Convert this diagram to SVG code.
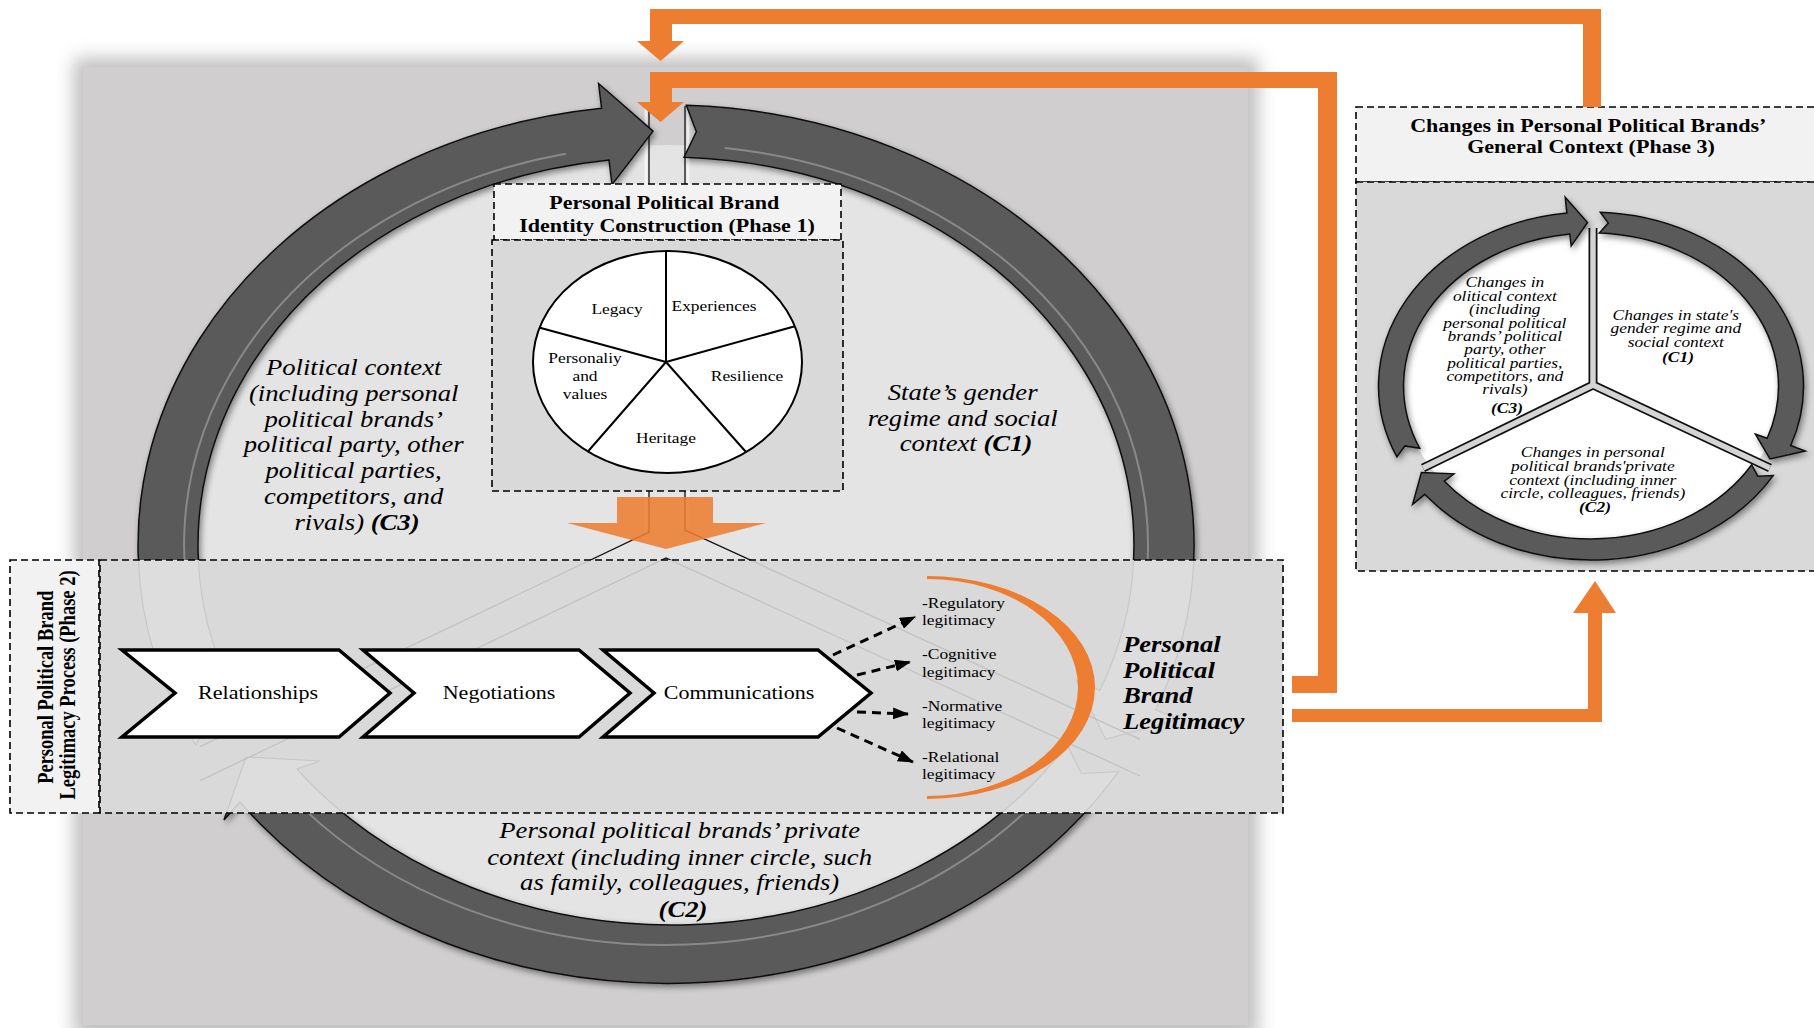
<svg xmlns="http://www.w3.org/2000/svg" width="1814" height="1028" viewBox="0 0 1814 1028">
<style>
.t{font-family:"Liberation Serif","Times New Roman",serif;fill:#000}
.i{font-style:italic}
.b{font-weight:bold}
.dash{stroke:#000;stroke-width:1.6;stroke-dasharray:7 4}
.arr{fill:#5a5a5a;stroke:#111;stroke-width:1.5}
.hl{fill:none;stroke:#9c9c9c;stroke-width:2;opacity:.7}
.ghost{fill:#fff;fill-opacity:.12;stroke:#c8c8c8;stroke-width:1.2}
.spk{stroke:#111;stroke-width:1.3;fill:none}
.glow{stroke:#fff;stroke-width:3;opacity:.6;fill:none}
.or{fill:#ed7d31}
.chev{fill:#fff;stroke:#000;stroke-width:3.5;stroke-linejoin:miter}
.da{stroke:#000;stroke-width:3;stroke-dasharray:9 6;fill:none}
</style>
<defs>
<filter id="blur" x="-10%" y="-10%" width="120%" height="120%"><feGaussianBlur stdDeviation="9"/></filter>
<filter id="ds" x="-10%" y="-10%" width="120%" height="120%"><feDropShadow dx="2" dy="3" stdDeviation="3" flood-color="#000" flood-opacity="0.45"/></filter>
<marker id="ah" markerUnits="userSpaceOnUse" markerWidth="16" markerHeight="12" refX="15" refY="6" orient="auto"><path d="M0 0 L16 6 L0 12 Z" fill="#000"/></marker>
<path id="bC3" d="M195.6 744.8 A528 440 0 0 1 601.6 108.3 L598.6 83.5 L653 131.1 L612 184.7 L609 159.9 A468 388 0 0 0 249 721.2 L212.8 716.7 Z"/>
<path id="bC1" d="M686.3 105.3 A528 440 0 0 1 1155.6 709.8 L1178.7 719.2 L1105.7 739.4 L1076.8 681 L1099.9 690.3 A468 388 0 0 0 684 157.3 L696.4 131.8 Z"/>
<path id="bC2" d="M1118.6 771.6 A528 440 0 0 1 240 802 L224 820 L246 757 L320 761 L297 769 A468 388 0 0 0 1067.2 744.8 L1081.3 773.5 Z"/>
<path id="mC3" d="M1396.9 456.8 A212.5 174 0 0 1 1566.9 213.1 L1565.2 197.2 L1587.5 222.5 L1571.2 245.9 L1569.8 234 A187.5 153 0 0 0 1419.7 448.2 L1404.9 445.9 Z"/>
<path id="mC1" d="M1600.3 212.2 A212.5 174 0 0 1 1790.7 445.5 L1805.3 451 L1770 459 L1755.4 434.2 L1767.2 438.3 A187.5 153 0 0 0 1599.2 233.1 L1608.4 223.1 Z"/>
<path id="mC2" d="M1773.2 475.6 A212.5 174 0 0 1 1424.7 494.3 L1412.6 504.3 L1421.4 472.6 L1454 473.8 L1444.3 481.2 A187.5 153 0 0 0 1751.7 464.8 L1757.8 476.2 Z"/>
<clipPath id="p2clip"><rect x="100" y="560" width="1183" height="253"/></clipPath>
</defs>
<rect width="1814" height="1028" fill="#fff"/>

<g id="background">
<rect x="74" y="58" width="1184" height="980" fill="#bfbfbf" filter="url(#blur)"/>
<rect x="83" y="67" width="1165" height="958" fill="#d0cecf"/>
<ellipse cx="666" cy="545" rx="482" ry="400" fill="#e4e4e4"/>
</g>

<g id="spokes">
<path class="glow" d="M646 106 V530 M688 106 V528"/>
<path class="spk" d="M649 106 V532 L200 746.6 M685 106 V530 L1140 739.3 M200 780.7 L666 558 L1140 776"/>
</g>

<g id="context-cycle" filter="url(#ds)">
<use href="#bC3" class="arr"/>
<use href="#bC1" class="arr"/>
<use href="#bC2" class="arr"/>
</g>
<g id="cycle-highlights">
<path class="hl" d="M219.1 694.8 A482 400 0 0 1 565.8 153.8"/>
<path class="hl" d="M724.8 148 A482 400 0 0 1 1126.9 662"/>
<path class="hl" d="M1055.9 780.1 A482 400 0 0 1 302.2 807.4"/>
</g>

<g id="c3-label">
<text class="t i" font-size="23" text-anchor="middle" transform="translate(357 0) scale(1.16 1)">
<tspan x="0" y="375">Political context</tspan>
<tspan x="0" y="401">(including personal</tspan>
<tspan x="0" y="427">political brands’</tspan>
<tspan x="0" y="452">political party, other</tspan>
<tspan x="0" y="478">political parties,</tspan>
<tspan x="0" y="504">competitors, and</tspan>
<tspan x="0" y="530">rivals) <tspan font-weight="bold">(C3)</tspan></tspan>
</text>
</g>
<g id="c1-label">
<text class="t i" font-size="23" text-anchor="middle" transform="translate(966 0) scale(1.16 1)">
<tspan x="0" y="400">State’s gender</tspan>
<tspan x="0" y="426">regime and social</tspan>
<tspan x="0" y="451">context <tspan font-weight="bold">(C1)</tspan></tspan>
</text>
</g>
<g id="c2-label">
<text class="t i" font-size="23" text-anchor="middle" transform="translate(683 0) scale(1.16 1)">
<tspan x="0" y="838">Personal political brands’ private</tspan>
<tspan x="0" y="865">context (including inner circle, such</tspan>
<tspan x="0" y="890">as family, colleagues, friends)</tspan>
<tspan x="0" y="917" font-weight="bold">(C2)</tspan>
</text>
</g>

<g id="phase1">
<rect x="494" y="184" width="347" height="56" fill="#f2f2f2" class="dash"/>
<rect x="492" y="240" width="351" height="251" fill="#d9d9d9" class="dash"/>
<text class="t b" font-size="19" text-anchor="middle" transform="translate(667 0) scale(1.16 1)">
<tspan x="0" y="209">Personal Political Brand</tspan>
<tspan x="0" y="232">Identity Construction (Phase 1)</tspan>
</text>
<ellipse cx="667.5" cy="362" rx="134.5" ry="111" fill="#fff" stroke="#000" stroke-width="2"/>
<path d="M666 362 L666 251 M666 362 L794 326.5 M666 362 L539 327.5 M666 362 L587.5 452 M666 362 L746 452" stroke="#000" stroke-width="2" fill="none"/>
<g class="t" font-size="15" text-anchor="middle">
<text transform="translate(617 0) scale(1.16 1)" x="0" y="314">Legacy</text>
<text transform="translate(714 0) scale(1.16 1)" x="0" y="311">Experiences</text>
<text transform="translate(585 0) scale(1.16 1)"><tspan x="0" y="363">Personaliy</tspan><tspan x="0" y="381">and</tspan><tspan x="0" y="399">values</tspan></text>
<text transform="translate(747 0) scale(1.16 1)" x="0" y="381">Resilience</text>
<text transform="translate(666 0) scale(1.16 1)" x="0" y="443">Heritage</text>
</g>
</g>

<g id="phase1-to-phase2">
<path class="or" opacity="0.88" d="M617 497 H713 V523 H766 L666 549 L567 523 H617 Z"/>
</g>

<g id="phase2">
<rect x="10" y="560" width="89" height="253" fill="#f2f2f2" class="dash"/>
<rect x="100" y="560" width="1183" height="253" fill="#d9d9d9"/>
<g clip-path="url(#p2clip)">
<use href="#bC3" class="ghost"/>
<use href="#bC1" class="ghost"/>
<use href="#bC2" class="ghost"/>
<path d="M649 532 L200 746.6 M685 530 L1140 739.3 M200 780.7 L666 558 L1140 776" stroke="#c2c2c2" stroke-width="1.3" fill="none"/>
</g>
<rect x="100" y="560" width="1183" height="253" fill="none" class="dash"/>
<text class="t b" font-size="18.5" text-anchor="middle" transform="translate(0 685) scale(1.3 1) rotate(-90)">
<tspan x="0" y="40.8">Personal Political Brand</tspan>
<tspan x="0" y="57.7">Legitimacy Process (Phase 2)</tspan>
</text>
<g id="relationships"><polygon class="chev" points="122,650 339,650 390,693 339,737 122,737 175,693"/>
<text class="t" font-size="19" text-anchor="middle" transform="translate(258 0) scale(1.16 1)" x="0" y="699">Relationships</text></g>
<g id="negotiations"><polygon class="chev" points="363,650 579,650 630,693 579,737 363,737 414,693"/>
<text class="t" font-size="19" text-anchor="middle" transform="translate(499 0) scale(1.16 1)" x="0" y="699">Negotiations</text></g>
<g id="communications"><polygon class="chev" points="603,650 818,650 871,693 818,737 603,737 654,693"/>
<text class="t" font-size="19" text-anchor="middle" transform="translate(739 0) scale(1.16 1)" x="0" y="699">Communications</text></g>
<g id="legitimacy-arrows">
<path class="da" d="M833 655 L915 617" marker-end="url(#ah)"/>
<path class="da" d="M857 675 L910 662" marker-end="url(#ah)"/>
<path class="da" d="M857 712 L908 714" marker-end="url(#ah)"/>
<path class="da" d="M837 728 L913 762" marker-end="url(#ah)"/>
</g>
<g id="legitimacy-types" class="t" font-size="15">
<text transform="translate(922 0) scale(1.16 1)"><tspan x="0" y="608">-Regulatory</tspan><tspan x="0" y="625">legitimacy</tspan></text>
<text transform="translate(922 0) scale(1.16 1)"><tspan x="0" y="659">-Cognitive</tspan><tspan x="0" y="677">legitimacy</tspan></text>
<text transform="translate(922 0) scale(1.16 1)"><tspan x="0" y="711">-Normative</tspan><tspan x="0" y="728">legitimacy</tspan></text>
<text transform="translate(922 0) scale(1.16 1)"><tspan x="0" y="762">-Relational</tspan><tspan x="0" y="779">legitimacy</tspan></text>
</g>
<path class="or" d="M927 576 A168 111.5 0 0 1 927 799 L927 796 A151 108.5 0 0 0 927 579 Z"/>
<g id="ppb-legitimacy">
<text class="t i b" font-size="23" transform="translate(1123 0) scale(1.16 1)">
<tspan x="0" y="652">Personal</tspan>
<tspan x="0" y="678">Political</tspan>
<tspan x="0" y="703">Brand</tspan>
<tspan x="0" y="729">Legitimacy</tspan>
</text>
</g>
</g>

<g id="phase3">
<rect x="1356" y="107" width="470" height="75" fill="#f2f2f2" class="dash"/>
<rect x="1356" y="182" width="470" height="389" fill="#d9d9d9" class="dash"/>
<text class="t b" font-size="19" text-anchor="middle" transform="translate(1591 0) scale(1.16 1)">
<tspan x="0" y="132">Changes in Personal Political Brands’</tspan>
<tspan x="0" y="153">General Context (Phase 3)</tspan>
</text>
<ellipse cx="1592" cy="385" rx="190" ry="156" fill="#fff"/>
<path d="M1593 228 V385 M1423 468 L1593 385 L1770 468" stroke="#111" stroke-width="9" fill="none" stroke-linejoin="miter"/>
<path d="M1593 228 V385 M1423 468 L1593 385 L1770 468" stroke="#d4d4d4" stroke-width="5.5" fill="none" stroke-linejoin="miter"/>
<g filter="url(#ds)">
<use href="#mC3" class="arr"/>
<use href="#mC1" class="arr"/>
<use href="#mC2" class="arr"/>
</g>
<g class="t i" font-size="15" text-anchor="middle">
<text transform="translate(1507 0) scale(1.16 1)">
<tspan x="0" y="287">Changes in</tspan>
<tspan x="0" y="301">olitical context</tspan>
<tspan x="0" y="314">(including</tspan>
<tspan x="0" y="328">personal political</tspan>
<tspan x="0" y="341">brands’ political</tspan>
<tspan x="0" y="354">party, other</tspan>
<tspan x="0" y="368">political parties,</tspan>
<tspan x="0" y="381">competitors, and</tspan>
<tspan x="0" y="394">rivals)</tspan>
<tspan x="0" y="413" font-weight="bold">(C3)</tspan>
</text>
<text transform="translate(1678 0) scale(1.16 1)">
<tspan x="0" y="320">Changes in state's</tspan>
<tspan x="0" y="333">gender regime and</tspan>
<tspan x="0" y="347">social context</tspan>
<tspan x="0" y="362" font-weight="bold">(C1)</tspan>
</text>
<text transform="translate(1595 0) scale(1.16 1)">
<tspan x="0" y="457">Changes in personal</tspan>
<tspan x="0" y="471">political brands'private</tspan>
<tspan x="0" y="485">context (including inner</tspan>
<tspan x="0" y="498">circle, colleagues, friends)</tspan>
<tspan x="0" y="512" font-weight="bold">(C2)</tspan>
</text>
</g>
</g>

<g id="connectors">
<path class="or" d="M650 41 V9 H1601 V107 H1583 V24 H672 V41 Z"/>
<path class="or" d="M637 41 H684 L660.5 61 Z"/>
<path class="or" d="M650 102 V72 H1337 V693 H1292 V676 H1318 V88 H672 V102 Z"/>
<path class="or" d="M637 102 H684 L660.5 122 Z"/>
<path class="or" d="M1292 709 H1588 V613 H1573 L1595 581 L1616 613 H1602 V722 H1292 Z"/>
</g>
</svg>
